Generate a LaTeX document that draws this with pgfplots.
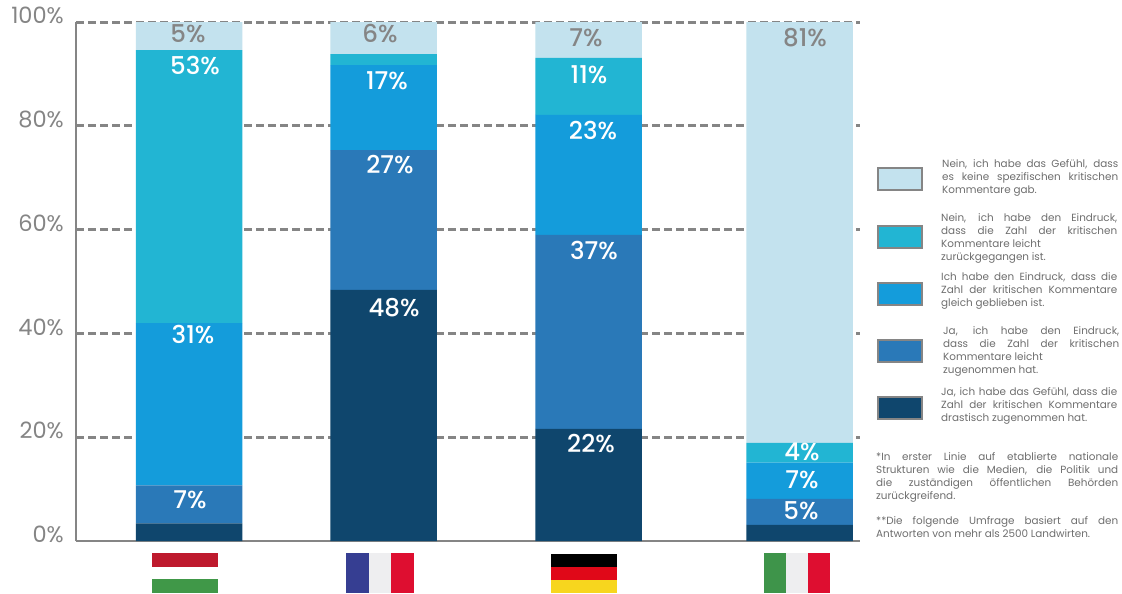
\documentclass[border=0pt]{standalone}
\usepackage{pgfplots}
\pgfplotsset{compat=1.18}
\usepackage{pgfplotstable}
\usepackage{fontspec}
\setmainfont{Poppins}
\newfontfamily\med{Poppins Medium}
\definecolor{cLight}{HTML}{C3E2EE}
\definecolor{cCyan}{HTML}{22B5D3}
\definecolor{cBlue}{HTML}{149CDB}
\definecolor{cMid}{HTML}{2A79B8}
\definecolor{cDark}{HTML}{0F466D}
\definecolor{cGray}{HTML}{858585}
\definecolor{cText}{HTML}{6E6E6E}
\pgfplotstableread{
x dark mid blue cyan light
189 3.4 7.3 31.3 52.6 5.4
383.5 48.4 26.9 16.4 2.1 6.2
588.5 21.6 37.4 23.1 11.0 6.9
799.5 3.1 5.0 7.0 3.8 81.1
}\data
\newcommand{\J}[1]{\makebox[176pt][s]{#1}\\}
\newcommand{\vl}[4]{\node[text=#4,font=\med\fontsize{24.5}{27}\selectfont] at (#1pt,-#2pt) {#3\%};}
\newcommand{\leg}[3]{\fill[draw=cGray,line width=1.2pt,fill=#1] (878pt,-#2pt) rectangle ++(44pt,-22pt);}
\newcommand{\txt}[3]{\node[anchor=north west,inner sep=0pt,text=cText,font=\fontsize{#3}{13}\selectfont,align=left] at (#1) {#2};}
\begin{document}
\begin{tikzpicture}
\path[fill=white] (0pt,0pt) rectangle (1122pt,-594pt);
\begin{axis}[
  at={(76pt,-541pt)},anchor=south west,
  scale only axis,width=784pt,height=519pt,
  xmin=76,xmax=860,ymin=0,ymax=100,
  axis x line*=bottom,axis y line*=left,
  axis line style={-,cGray,line width=2.6pt},
  xtick=\empty,
  ytick={20,40,60,80,100},
  yticklabels={20\%,40\%,60\%,80\%,100\%},
  extra y ticks={0},
  extra y tick labels={\raisebox{1.5pt}{0\%}},
  extra y tick style={ymajorgrids=false},
  yticklabel style={yshift=6.5pt,text=cGray,font=\fontsize{22.5}{25}\selectfont,inner sep=0pt,xshift=-12pt},
  tick style={draw=none},
  ymajorgrids,
  grid style={cGray,line width=3pt,dash pattern=on 7.5pt off 4.5pt},
  ybar stacked,bar width=106.5pt,
  clip=false,
]
\addplot[fill=cDark,draw=none] table[x=x,y=dark]{\data};
\addplot[fill=cMid,draw=none] table[x=x,y=mid]{\data};
\addplot[fill=cBlue,draw=none] table[x=x,y=blue]{\data};
\addplot[fill=cCyan,draw=none] table[x=x,y=cyan]{\data};
\addplot[fill=cLight,draw=none] table[x=x,y=light]{\data};
\end{axis}
% value labels
\vl{188}{34}{5}{cGray}\vl{195}{66}{53}{white}\vl{193}{335}{31}{white}\vl{190}{500}{7}{white}
\vl{380}{34}{6}{cGray}\vl{387}{81}{17}{white}\vl{390}{165}{27}{white}\vl{394}{308}{48}{white}
\vl{586}{38}{7}{cGray}\vl{589}{75}{11}{white}\vl{593}{131}{23}{white}\vl{594}{251}{37}{white}\vl{591}{444}{22}{white}
\vl{805}{38}{81}{cGray}\vl{802}{452}{4}{white}\vl{802}{480}{7}{white}\vl{801}{511}{5}{white}
% flags
\fill[fill={rgb,255:red,190;green,25;blue,45}] (152pt,-553pt) rectangle (218pt,-566.5pt);
\fill[fill={rgb,255:red,64;green,152;blue,72}] (152pt,-579pt) rectangle (218pt,-593pt);
\fill[fill={rgb,255:red,54;green,62;blue,146}] (346pt,-553pt) rectangle (368.5pt,-593pt);
\fill[fill={rgb,255:red,238;green,238;blue,240}] (368.5pt,-553pt) rectangle (390.5pt,-593pt);
\fill[fill={rgb,255:red,222;green,14;blue,48}] (390.5pt,-553pt) rectangle (413.5pt,-593pt);
\fill[fill=black] (551pt,-553.5pt) rectangle (617pt,-566.5pt);
\fill[fill={rgb,255:red,224;green,8;blue,24}] (551pt,-566.5pt) rectangle (617pt,-579.5pt);
\fill[fill={rgb,255:red,247;green,214;blue,30}] (551pt,-579.5pt) rectangle (617pt,-593pt);
\fill[fill={rgb,255:red,62;green,148;blue,74}] (763.5pt,-553pt) rectangle (785.5pt,-593pt);
\fill[fill={rgb,255:red,238;green,238;blue,240}] (785.5pt,-553pt) rectangle (807.5pt,-593pt);
\fill[fill={rgb,255:red,222;green,14;blue,48}] (807.5pt,-553pt) rectangle (830pt,-593pt);
% legend
\leg{cLight}{168}{}\leg{cCyan}{226}{}\leg{cBlue}{283}{}\leg{cMid}{340}{}\leg{cDark}{397}{}
\txt{942pt,-159pt}{\J{Nein, ich habe das Gefühl, dass}\J{es keine spezifischen kritischen}Kommentare gab.}{10.4}
\txt{941pt,-213pt}{\J{Nein, ich habe den Eindruck,}\J{dass die Zahl der kritischen}Kommentare leicht\\zurückgegangen ist.}{10.4}
\txt{941pt,-272pt}{\J{Ich habe den Eindruck, dass die}\J{Zahl der kritischen Kommentare}gleich geblieben ist.}{10.4}
\txt{943pt,-326pt}{\J{Ja, ich habe den Eindruck,}\J{dass die Zahl der kritischen}Kommentare leicht\\zugenommen hat.}{10.4}
\txt{941pt,-387pt}{\J{Ja, ich habe das Gefühl, dass die}\J{Zahl der kritischen Kommentare}drastisch zugenommen hat.}{10.4}
\txt{876pt,-452pt}{\makebox[242pt][s]{*In erster Linie auf etablierte nationale}\\\makebox[242pt][s]{Strukturen wie die Medien, die Politik und}\\\makebox[242pt][s]{die zuständigen öffentlichen Behörden}\\zurückgreifend.}{10.4}
\txt{876pt,-516pt}{\makebox[242pt][s]{**Die folgende Umfrage basiert auf den}\\Antworten von mehr als 2500 Landwirten.}{10.4}
\end{tikzpicture}
\end{document}
